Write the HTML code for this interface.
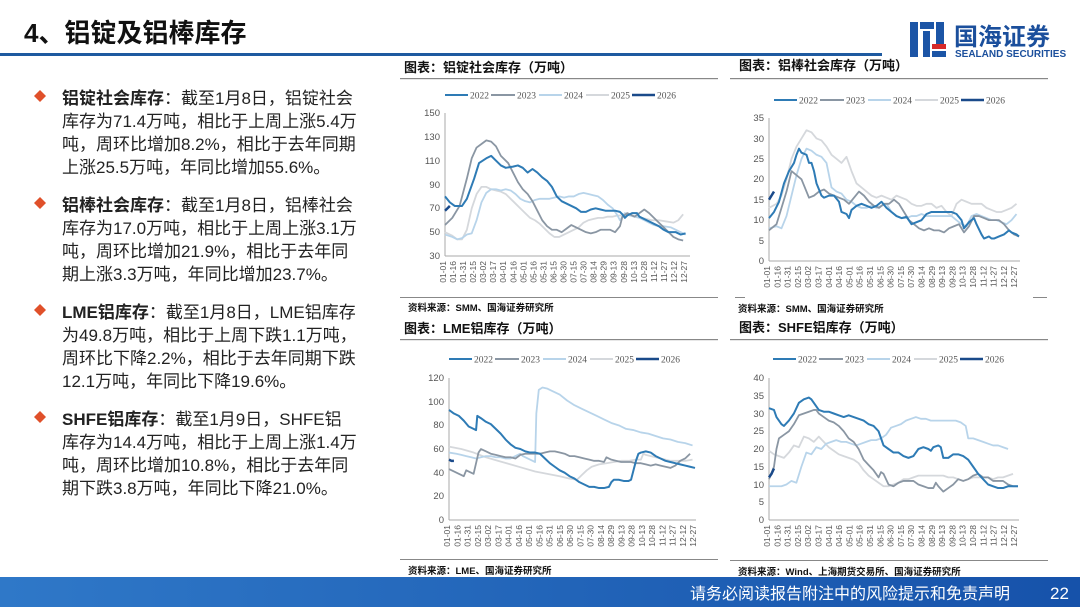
<!DOCTYPE html>
<html><head><meta charset="utf-8"><style>
html,body{margin:0;padding:0;background:#fff;}
svg{display:block;}
text{font-family:"Liberation Sans","Noto Sans CJK SC",sans-serif;}
.t{font-size:17px;fill:#222;}
.b{font-weight:bold;}
.ct{font-size:13px;font-weight:bold;fill:#111;}
.src{font-size:9.5px;font-weight:bold;fill:#111;}
.yl{font-size:9.5px;fill:#555;text-anchor:end;}
.xl{font-size:8.5px;fill:#555;text-anchor:end;}
.lg{font-family:"Liberation Serif","Noto Serif CJK SC",serif;font-size:9.5px;fill:#555;}
.s{fill:none;stroke-linejoin:round;}
.s *{vector-effect:non-scaling-stroke;fill:none;}
</style></head><body>
<svg width="1080" height="607" viewBox="0 0 1080 607" xmlns="http://www.w3.org/2000/svg">
<defs>
<g id="xlab">
<text class="xl" transform="translate(3,4) rotate(-90)">01-01</text>
<text class="xl" transform="translate(13.25,4) rotate(-90)">01-16</text>
<text class="xl" transform="translate(23.5,4) rotate(-90)">01-31</text>
<text class="xl" transform="translate(33.75,4) rotate(-90)">02-15</text>
<text class="xl" transform="translate(44,4) rotate(-90)">03-02</text>
<text class="xl" transform="translate(54.25,4) rotate(-90)">03-17</text>
<text class="xl" transform="translate(64.5,4) rotate(-90)">04-01</text>
<text class="xl" transform="translate(74.75,4) rotate(-90)">04-16</text>
<text class="xl" transform="translate(85,4) rotate(-90)">05-01</text>
<text class="xl" transform="translate(95.25,4) rotate(-90)">05-16</text>
<text class="xl" transform="translate(105.5,4) rotate(-90)">05-31</text>
<text class="xl" transform="translate(115.75,4) rotate(-90)">06-15</text>
<text class="xl" transform="translate(126,4) rotate(-90)">06-30</text>
<text class="xl" transform="translate(136.25,4) rotate(-90)">07-15</text>
<text class="xl" transform="translate(146.5,4) rotate(-90)">07-30</text>
<text class="xl" transform="translate(156.75,4) rotate(-90)">08-14</text>
<text class="xl" transform="translate(167,4) rotate(-90)">08-29</text>
<text class="xl" transform="translate(177.25,4) rotate(-90)">09-13</text>
<text class="xl" transform="translate(187.5,4) rotate(-90)">09-28</text>
<text class="xl" transform="translate(197.75,4) rotate(-90)">10-13</text>
<text class="xl" transform="translate(208,4) rotate(-90)">10-28</text>
<text class="xl" transform="translate(218.25,4) rotate(-90)">11-12</text>
<text class="xl" transform="translate(228.5,4) rotate(-90)">11-27</text>
<text class="xl" transform="translate(238.75,4) rotate(-90)">12-12</text>
<text class="xl" transform="translate(249,4) rotate(-90)">12-27</text>
</g>
<g id="leg">
<line x1="0" y1="0" x2="23" y2="0" stroke="#2e7bb5" stroke-width="2"/><text class="lg" x="25" y="3.5">2022</text>
<line x1="46" y1="0" x2="70" y2="0" stroke="#8a96a3" stroke-width="2"/><text class="lg" x="72" y="3.5">2023</text>
<line x1="94" y1="0" x2="117" y2="0" stroke="#b8d4ea" stroke-width="2"/><text class="lg" x="119" y="3.5">2024</text>
<line x1="141" y1="0" x2="164" y2="0" stroke="#d5d8dc" stroke-width="2"/><text class="lg" x="166" y="3.5">2025</text>
<line x1="187" y1="0" x2="210" y2="0" stroke="#1a4a8a" stroke-width="2.5"/><text class="lg" x="212" y="3.5">2026</text>
</g>
</defs>

<text x="24" y="42" style="font-size:26px;font-weight:bold;fill:#111">4、铝锭及铝棒库存</text>
<rect x="0" y="53" width="882" height="3" fill="#1e5aa0"/>
<g>
<rect x="910" y="22" width="8" height="35" fill="#1c55a6"/>
<rect x="920" y="22" width="14" height="7" fill="#1c55a6"/>
<rect x="923" y="31" width="7" height="26" fill="#1c55a6"/>
<rect x="936" y="22" width="8" height="22" fill="#1c55a6"/>
<rect x="932" y="44" width="14" height="5" fill="#d62a2a"/>
<rect x="932" y="51" width="14" height="6" fill="#1c55a6"/>
<text x="954" y="45" style="font-size:24px;font-weight:bold;fill:#1b4f9c">国海证券</text>
<text x="955" y="57" style="font-size:10px;font-weight:bold;fill:#1b4f9c">SEALAND SECURITIES</text>
</g>

<g>
<path d="M40 90 l6 6 l-6 6 l-6 -6z" fill="#e0502a"/>
<text class="t" x="62" y="104"><tspan class="b">铝锭社会库存</tspan>：截至1月8日，铝锭社会</text>
<text class="t" x="62" y="127">库存为71.4万吨，相比于上周上涨5.4万</text>
<text class="t" x="62" y="150">吨，周环比增加8.2%，相比于去年同期</text>
<text class="t" x="62" y="173">上涨25.5万吨，年同比增加55.6%。</text>
<path d="M40 197 l6 6 l-6 6 l-6 -6z" fill="#e0502a"/>
<text class="t" x="62" y="211"><tspan class="b">铝棒社会库存</tspan>：截至1月8日，铝棒社会</text>
<text class="t" x="62" y="234">库存为17.0万吨，相比于上周上涨3.1万</text>
<text class="t" x="62" y="257">吨，周环比增加21.9%，相比于去年同</text>
<text class="t" x="62" y="280">期上涨3.3万吨，年同比增加23.7%。</text>
<path d="M40 304 l6 6 l-6 6 l-6 -6z" fill="#e0502a"/>
<text class="t" x="62" y="318"><tspan class="b">LME铝库存</tspan>：截至1月8日，LME铝库存</text>
<text class="t" x="62" y="341">为49.8万吨，相比于上周下跌1.1万吨，</text>
<text class="t" x="62" y="364">周环比下降2.2%，相比于去年同期下跌</text>
<text class="t" x="62" y="387">12.1万吨，年同比下降19.6%。</text>
<path d="M40 411 l6 6 l-6 6 l-6 -6z" fill="#e0502a"/>
<text class="t" x="62" y="425"><tspan class="b">SHFE铝库存</tspan>：截至1月9日，SHFE铝</text>
<text class="t" x="62" y="448">库存为14.4万吨，相比于上周上涨1.4万</text>
<text class="t" x="62" y="471">吨，周环比增加10.8%，相比于去年同</text>
<text class="t" x="62" y="494">期下跌3.8万吨，年同比下降21.0%。</text>
</g>

<text class="ct" x="404" y="72">图表：铝锭社会库存（万吨）</text>
<rect x="400" y="78" width="318" height="1.2" fill="#888"/>
<use href="#leg" x="445" y="95"/>
<g>
<line x1="445" y1="113" x2="445" y2="256" stroke="#aaa"/>
<line x1="445" y1="256" x2="690" y2="256" stroke="#aaa"/>
<text class="yl" x="440" y="116">150</text><text class="yl" x="440" y="140">130</text><text class="yl" x="440" y="164">110</text><text class="yl" x="440" y="188">90</text><text class="yl" x="440" y="211">70</text><text class="yl" x="440" y="235">50</text><text class="yl" x="440" y="259">30</text>
</g>
<use href="#xlab" transform="translate(443,257) scale(0.98,1)"/>
<g class="s" transform="translate(445,256) scale(2.43,-1.1917) translate(0,-30)">
<polyline stroke="#d5d8dc" stroke-width="1.8" points="0,50 3,47 5,44 7,44 9,52 11,70 13,82 15,88 17,88 19,86 21,85 23,84 25,82 27,78 29,74 31,70 33,66 35,62 37,60 39,57 41,53 43,49 45,46 47,46 49,48 51,50 53,52 55,54 57,58 59,60 61,61 63,62 65,62 67,63 69,63 71,64 73,64 75,65 77,64 79,63 81,62 83,61 85,60 88,60 91,59 94,58 96,60 98,65"/>
<polyline stroke="#b8d4ea" stroke-width="1.8" points="0,48 3,46 5,44 7,45 9,48 11,49 13,60 15,75 17,83 19,86 21,86 23,85 25,86 27,85 29,82 31,78 33,76 35,75 37,77 39,78 41,78 43,78 45,79 47,80 49,79 51,80 53,80 55,82 57,83 59,82 61,81 63,80 65,77 67,73 69,70 71,64 72,60 74,66 76,64 80,62 82,60 84,58 86,56 88,55 90,55 93,54 95,52 97,50 99,48"/>
<polyline stroke="#8a96a3" stroke-width="1.8" points="0,56 3,62 6,72 9,95 11,112 13,121 15,124 17,127 19,126 21,122 23,114 26,108 28,100 30,92 32,86 34,82 36,76 38,68 40,60 42,55 44,52 46,52 48,50 50,53 52,56 54,54 56,52 58,50 60,49 62,50 64,52 66,52 68,52 70,50 72,55 73,63 75,66 78,63 80,66 82,69 84,66 86,62 88,58 90,54 92,50 94,46 96,44 98,43"/>
<polyline stroke="#2e7bb5" stroke-width="2" points="0,80 2,75 4,72 7,72 9,78 12,95 14,108 17,112 19,114 21,110 23,106 25,104 28,105 30,106 32,104 34,100 36,103 38,100 40,96 42,93 44,88 46,80 48,76 50,74 52,72 54,70 56,67 58,67 60,69 62,70 64,69 66,68 68,68 70,68 72,67 73,65 74,62 75,64 77,66 79,66 80,63 83,60 86,57 88,55 90,52 92,50 95,50 97,48 99,49"/>
<polyline stroke="#1a4a8a" stroke-width="2.5" points="0,68 1,70 2,72"/>
</g>
<rect x="400" y="297" width="318" height="1" fill="#888"/>
<text class="src" x="408" y="311">资料来源：SMM、国海证券研究所</text>

<text class="ct" x="739" y="70">图表：铝棒社会库存（万吨）</text>
<rect x="730" y="78" width="318" height="1.2" fill="#888"/>
<use href="#leg" x="774" y="100"/>
<g>
<line x1="769" y1="118" x2="769" y2="261" stroke="#aaa"/>
<line x1="769" y1="261" x2="1020" y2="261" stroke="#aaa"/>
<text class="yl" x="764" y="121">35</text><text class="yl" x="764" y="142">30</text><text class="yl" x="764" y="162">25</text><text class="yl" x="764" y="182">20</text><text class="yl" x="764" y="203">15</text><text class="yl" x="764" y="223">10</text><text class="yl" x="764" y="244">5</text><text class="yl" x="764" y="264">0</text>
</g>
<use href="#xlab" transform="translate(767,262) scale(1.005,1)"/>
<g class="s" transform="translate(769,261) scale(2.5,-4.086)">
<polyline stroke="#d5d8dc" stroke-width="1.8" points="0,13 3,14 5,16 7,20 9,25 11,28 13,30 15,32 17,31.5 19,30 21,29.5 23,28 25,26 27,25 29,24 31,25.5 33,22 35,19 37,18 39,17 41,16 43,15.5 45,16 47,15.5 49,15 51,16 53,15.5 55,15 57,14 59,13.5 61,13.5 63,14 65,14 67,13 69,13.5 71,12 73,11 75,14 77,15 79,14.5 81,14 83,14 85,14 87,13 89,12.5 91,12 93,12 95,12.5 97,13 99,14"/>
<polyline stroke="#b8d4ea" stroke-width="1.8" points="0,8 3,8.5 5,8 7,11 9,16 11,21 13,25 15,27.5 17,27 19,26 21,25.5 23,24 25,18 27,17 29,16.5 31,15 33,14.5 35,13.5 37,13 39,13 41,13.5 43,13 45,13.5 47,14 49,12 51,11 53,10.5 55,10.5 57,11 59,11 61,11.5 63,11 65,11 67,11 69,11 71,11 73,11 75,10 77,9 79,8.5 81,11 83,11.5 85,11 87,10.5 89,10 91,10 93,9.5 95,9 97,10 99,11.5"/>
<polyline stroke="#8a96a3" stroke-width="1.8" points="0,7.5 3,9 5,13 7,17 9,22 11,21 13,20 15,17 16,15.5 18,16 20,17 22,17.5 24,16.5 26,16 28,15.5 30,15 32,14 34,15.5 36,17 38,16 40,14.5 42,13.5 44,13 46,14 48,14 50,15 52,14 54,12 56,10 58,9 60,8 62,7.5 64,8 66,7.5 68,7.5 70,7 72,8 74,8.5 76,9 78,7 80,8.5 82,11 84,11 86,10.5 88,10 90,10 92,10 94,9 96,7.5 98,6.5 100,6"/>
<polyline stroke="#2e7bb5" stroke-width="2" points="0,10.5 2,12 4,14.5 6,19 8,22 10,24 11,26 12,27.5 13,26.5 15,26 16,24 17,24 18,22 19,19 20,17.5 21,16 22,15.5 24,16 26,16 28,14.5 29,12 31,11.5 32,10.5 33,12.5 35,13.5 37,14 39,13.5 41,13 43,13.5 45,14.5 47,13 49,12 51,11 53,10.5 55,10.8 57,9 59,9.5 61,10 63,11.5 65,12 67,12 69,12 71,12 73,12 75,11.5 77,10 78,8 80,9.5 82,10.5 83,9 85,6.5 86,5.5 88,6 89,5.5 90,5.5 92,6 94,6.5 96,7.5 97,7 99,6.5 100,6"/>
<polyline stroke="#1a4a8a" stroke-width="2.5" points="0,15 1,16 2,17"/>
</g>
<rect x="735" y="297" width="10" height="1" fill="#888"/>
<rect x="1033" y="297" width="14" height="1" fill="#888"/>
<text class="src" x="738" y="312">资料来源：SMM、国海证券研究所</text>

<text class="ct" x="404" y="333">图表：LME铝库存（万吨）</text>
<rect x="400" y="339" width="318" height="1.2" fill="#888"/>
<use href="#leg" x="449" y="359"/>
<g>
<line x1="449" y1="378" x2="449" y2="520" stroke="#aaa"/>
<line x1="449" y1="520" x2="696" y2="520" stroke="#aaa"/>
<text class="yl" x="444" y="381">120</text><text class="yl" x="444" y="405">100</text><text class="yl" x="444" y="428">80</text><text class="yl" x="444" y="452">60</text><text class="yl" x="444" y="476">40</text><text class="yl" x="444" y="499">20</text><text class="yl" x="444" y="523">0</text>
</g>
<use href="#xlab" transform="translate(447,521)"/>
<g class="s" transform="translate(449,520) scale(2.46,-1.1833)">
<polyline stroke="#d5d8dc" stroke-width="1.8" points="0,62 5,60 10,57 15,53 20,50 25,47 30,44 35,41 40,39 45,37 49,35 52,34 54,38 56,42 58,45 61,47 64,48 67,49 70,50 73,50 76,51 78,51 79,56 80,55 82,54 84,53 86,52 88,51 90,50 93,50 96,50 99,51"/>
<polyline stroke="#b8d4ea" stroke-width="1.8" points="0,57 3,56 5,55 7,54 9,53 11,52 13,53 15,54 17,54 19,53 21,53 23,52 25,52 27,54 29,56 30,54 32,52 34,50 35,49 35.5,90 36.5,110 38,112 40,111 42,109 45,106 48,101 51,97 54,94 57,91 60,88 63,85 66,82 69,80 72,77 75,76 78,74 81,73 84,71 87,69 90,68 93,66 96,65 99,63"/>
<polyline stroke="#8a96a3" stroke-width="1.8" points="0,43 2,41 4,39 6,37 7,42 9,40 10,39 11,48 12,57 13,60 15,58 17,56 19,55 21,54 23,53 25,53 27,52 29,55 31,56 33,56 35,56 37,56 39,57 41,58 43,58 45,57 47,56 49,54 51,54 53,53 55,52 57,51 59,50 61,50 63,49 64,53 66,51 68,50 70,49 72,49 74,49 76,48 78,48 80,47 82,46 84,47 86,46 88,45 90,44 92,46 94,50 96,52 98,56"/>
<polyline stroke="#2e7bb5" stroke-width="2" points="0,93 2,90 4,88 6,84 8,79 10,77 11,76 11.5,88 13,86 15,83 17,81 19,77 21,73 23,68 25,64 27,61 29,60 31,58 33,57 35,57 37,56 39,52 41,48 43,45 45,42 47,40 49,37 51,35 53,32 55,30 57,28 59,28 61,27 63,27 65,28 66,32 67,34 69,34 71,33 73,33 74,34 75,42 76,50 77,56 78,57 80,58 82,57 84,54 86,52 88,50 90,49 92,48 94,47 96,46 98,45 100,44"/>
<polyline stroke="#1a4a8a" stroke-width="2.5" points="0,51 1,50 2,50"/>
</g>
<rect x="400" y="559" width="318" height="1" fill="#888"/>
<text class="src" x="408" y="574">资料来源：LME、国海证券研究所</text>

<text class="ct" x="739" y="332">图表：SHFE铝库存（万吨）</text>
<rect x="730" y="339" width="318" height="1.2" fill="#888"/>
<use href="#leg" x="773" y="359"/>
<g>
<line x1="769" y1="378" x2="769" y2="520" stroke="#aaa"/>
<line x1="769" y1="520" x2="1019" y2="520" stroke="#aaa"/>
<text class="yl" x="764" y="381">40</text><text class="yl" x="764" y="399">35</text><text class="yl" x="764" y="417">30</text><text class="yl" x="764" y="434">25</text><text class="yl" x="764" y="452">20</text><text class="yl" x="764" y="470">15</text><text class="yl" x="764" y="488">10</text><text class="yl" x="764" y="505">5</text><text class="yl" x="764" y="523">0</text>
</g>
<use href="#xlab" transform="translate(767,521) scale(1.005,1)"/>
<g class="s" transform="translate(769,520) scale(2.49,-3.55)">
<polyline stroke="#d5d8dc" stroke-width="1.8" points="0,19.5 2,18.5 4,18 6,17.5 8,19 10,21 12,20.5 14,23.5 16,23 18,22 20,23.5 22,22 24,20.5 26,19.5 28,18.5 30,18 32,17.5 34,17 36,16 38,14 40,12.5 42,11.5 44,10.5 46,9.5 48,9.5 50,10 52,10.5 54,11.5 56,11.5 58,12 60,12.5 62,12.5 64,12.5 66,12.5 68,12.5 70,12.5 72,12 74,12 76,11.5 78,11 80,11.5 82,12 84,12 86,12 88,12 90,11.5 92,12 94,12 96,12.5 98,13"/>
<polyline stroke="#b8d4ea" stroke-width="1.8" points="0,9.5 3,9.5 5,9.5 7,10 9,11 11,10.5 13,15 15,19 17,18.5 19,20.5 21,20 23,21.5 25,22 27,22.5 29,22 31,22 33,21.5 35,21 37,21.5 39,22 41,22.5 43,22.5 45,23 47,24 49,26 51,26.5 53,27 55,28 57,28.5 59,29 61,28.5 63,28.5 65,28 67,28 69,28 71,28 73,28 75,28 77,27.5 79,26.5 80,23 82,23 84,22.5 86,22 88,21.5 90,21 92,21 94,20.5 96,20"/>
<polyline stroke="#8a96a3" stroke-width="1.8" points="0,11.5 2,15 3,20 4,23 6,24 8,25 10,27 12,29.5 14,30 16,30.5 18,31 19,31 20,30 22,29 24,28 26,27.5 28,26.5 30,25 32,23 34,22 36,20 38,17 40,15.5 42,14 44,12 45,13.5 46,13 48,10 50,9.5 52,10.5 54,11 56,11 58,11 60,10 62,9.5 64,9 66,9 67,10.5 68,9.5 70,8 72,9 74,10 76,11.5 78,11 80,11.5 82,12.5 84,13 86,12 88,12 90,11 92,11 94,11 96,10 98,9.5 100,9.5"/>
<polyline stroke="#2e7bb5" stroke-width="2" points="0,31.5 2,31 3,29 5,27 6,26.5 8,28 10,30 12,33 14,34 16,34.5 17,34 18,33 20,31 22,30.5 24,30.5 26,30 28,29.5 30,29 32,29.5 34,29 36,28.5 38,28 40,27 42,26.5 44,25 46,21 48,20 50,19 52,19 54,18 56,17.5 58,18 60,20 62,20.5 64,20 65,19.5 66,20.5 68,21 69,20.5 70,17.5 72,17.5 74,18.5 76,18.5 78,18 80,17 82,15 84,13 86,11.5 88,10 90,9.5 92,9 94,9 96,9.5 98,9.5 100,9.5"/>
<polyline stroke="#1a4a8a" stroke-width="2.5" points="0,12 1,13 2,14.5"/>
</g>
<rect x="730" y="560" width="318" height="1" fill="#888"/>
<text class="src" x="738" y="575">资料来源：Wind、上海期货交易所、国海证券研究所</text>

<defs><linearGradient id="fg" x1="0" x2="1" y1="0" y2="0"><stop offset="0" stop-color="#2f78c8"/><stop offset="1" stop-color="#1652aa"/></linearGradient></defs>
<rect x="0" y="577" width="1080" height="30" fill="url(#fg)"/>
<text x="1010" y="599" style="font-size:16px;fill:#fff;text-anchor:end">请务必阅读报告附注中的风险提示和免责声明</text>
<text x="1050" y="599" style="font-size:17px;fill:#fff">22</text>
</svg>
</body></html>
